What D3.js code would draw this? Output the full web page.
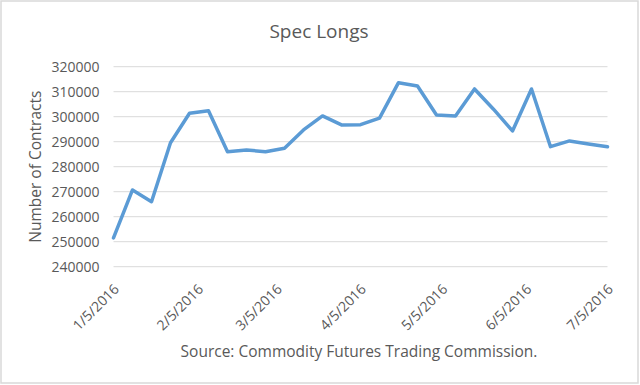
<!DOCTYPE html>
<html>
<head>
<meta charset="utf-8">
<script src="https://cdn.jsdelivr.net/npm/d3@7"></script>
<style>
  html, body { margin: 0; padding: 0; background: #fff; }
  svg { display: block; }
  text { font-family: "Open Sans", sans-serif; fill: #595959; }
</style>
</head>
<body>
<svg id="chart" width="640" height="385"></svg>
<script>
// ---- data ----
const dates = [
  "2016-01-05","2016-01-12","2016-01-19","2016-01-26","2016-02-02","2016-02-09",
  "2016-02-16","2016-02-23","2016-03-01","2016-03-08","2016-03-15","2016-03-22",
  "2016-03-29","2016-04-05","2016-04-12","2016-04-19","2016-04-26","2016-05-03",
  "2016-05-10","2016-05-17","2016-05-24","2016-05-31","2016-06-07","2016-06-14",
  "2016-06-21","2016-06-28","2016-07-05"
];
const specLongs = [
  251500, 270700, 266000, 289600, 301400, 302400,
  286000, 286700, 286000, 287400, 294700, 300300,
  296700, 296800, 299400, 313600, 312300, 300700,
  300300, 311100, 303000, 294300, 311100, 288000,
  290300, 289100, 288000
];
const yTicks = [240000, 250000, 260000, 270000, 280000, 290000, 300000, 310000, 320000];
const xTickDates = ["2016-01-05","2016-02-05","2016-03-05","2016-04-05","2016-05-05","2016-06-05","2016-07-05"];
const titleText = "Spec Longs";
const yTitleText = "Number of Contracts";
const sourceText = "Source: Commodity Futures Trading Commission.";

// ---- drawing ----
(function () {
const parse = d3.utcParse("%Y-%m-%d");
const fmtTick = d => (d.getUTCMonth() + 1) + "/" + d.getUTCDate() + "/" + d.getUTCFullYear();
const svg = d3.select("#chart");

svg.append("rect").attr("x", 1).attr("y", 1).attr("width", 637).attr("height", 382)
  .attr("fill", "#fff").attr("stroke", "#d9d9d9").attr("stroke-width", 1.5);

const pLeft = 113.5, pRight = 607.5, pTop = 66.7, pBottom = 266.7;
const x = d3.scaleUtc().domain([parse(dates[0]), parse(dates[dates.length - 1])]).range([pLeft, pRight]);
const y = d3.scaleLinear().domain([240000, 320000]).range([pBottom, pTop]);

// gridlines
svg.append("g").selectAll("line").data(yTicks).join("line")
  .attr("x1", pLeft).attr("x2", pRight)
  .attr("y1", d => y(d)).attr("y2", d => y(d))
  .attr("stroke", "#d9d9d9").attr("stroke-width", 1);

// y axis labels
const yAxis = d3.axisLeft(y).tickValues(yTicks).tickFormat(d3.format("d")).tickSize(0).tickPadding(0);
const gy = svg.append("g").attr("transform", `translate(${pLeft - 14},0)`).call(yAxis);
gy.select(".domain").remove();
gy.selectAll("text").attr("font-family", "Open Sans").attr("font-size", 14).attr("fill", "#595959").attr("dy", "0.36em");

// x axis labels
const xAxis = d3.axisBottom(x).tickValues(xTickDates.map(parse)).tickFormat(fmtTick).tickSize(0).tickPadding(0);
const gx = svg.append("g").attr("transform", `translate(0,${pBottom})`).call(xAxis);
gx.select(".domain").remove();
gx.selectAll("text")
  .attr("font-family", "Open Sans").attr("font-size", 14).attr("fill", "#595959")
  .attr("text-anchor", "end")
  .attr("transform", "translate(-1,16.5) rotate(-45)")
  .attr("x", 0).attr("y", 0).attr("dy", "0.7em");

// line
const line = d3.line().x((d, i) => x(parse(dates[i]))).y(d => y(d));
svg.append("path").datum(specLongs)
  .attr("d", line)
  .attr("fill", "none").attr("stroke", "#5b9bd5").attr("stroke-width", 3.5)
  .attr("stroke-linejoin", "round").attr("stroke-linecap", "round");

// title
svg.append("text").attr("x", 319).attr("y", 37.5).attr("text-anchor", "middle")
  .attr("font-size", 19).text(titleText);

// y title
svg.append("text").attr("transform", "translate(41,166.7) rotate(-90)")
  .attr("text-anchor", "middle").attr("font-size", 15.5).text(yTitleText);

// source
svg.append("text").attr("x", 359).attr("y", 356.7).attr("text-anchor", "middle")
  .attr("font-size", 15.5).text(sourceText);
})();
</script>
</body>
</html>
